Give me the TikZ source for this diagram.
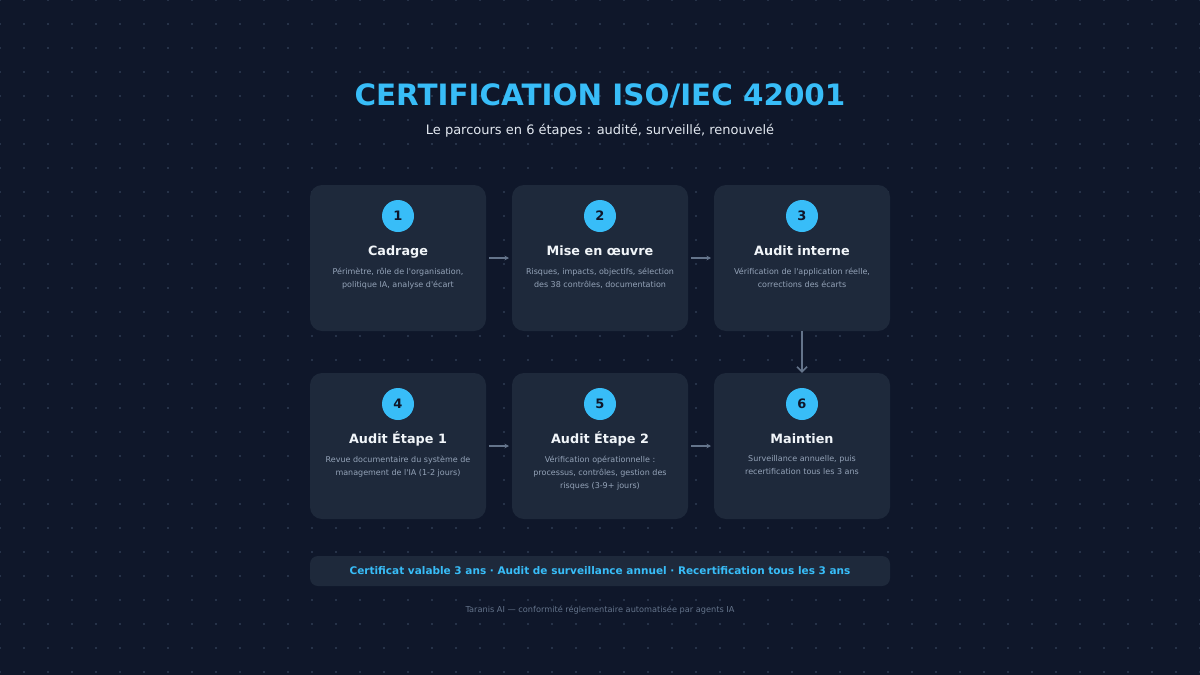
\documentclass[tikz,border=0pt]{standalone}
\usepackage{fontspec}
\setmainfont{DejaVu Sans}
\usetikzlibrary{arrows.meta}
\definecolor{bg}{HTML}{0F172A}
\definecolor{card}{HTML}{1E293B}
\definecolor{accent}{HTML}{38BDF8}
\definecolor{desc}{HTML}{94A3B8}
\definecolor{foot}{HTML}{64748B}
\definecolor{arr}{HTML}{64748B}
\definecolor{dotc}{HTML}{263248}
\definecolor{ttl}{HTML}{F1F5F9}
\definecolor{sub}{HTML}{E2E8F0}
\newcommand{\sq}{\textquotesingle}
\tikzset{
  cardbox/.style={fill=card, rounded corners=12pt, minimum width=176pt, minimum height=146pt, inner sep=0pt},
  numcirc/.style={circle, fill=accent, minimum size=32pt, inner sep=0pt, font=\bfseries\fontsize{13}{13}\selectfont, text=bg},
  cardtitle/.style={font=\bfseries\fontsize{12.8}{14}\selectfont, text=ttl, inner sep=0pt, anchor=base},
  cardtext/.style={font=\fontsize{8}{13}\selectfont, text=desc, align=center, inner sep=0pt, anchor=north},
  flowarrow/.style={draw=arr, line width=1.1pt, -{Stealth[length=4.5pt,width=4.5pt]}, shorten <=3pt, shorten >=3pt},
  downarrow/.style={draw=arr, line width=1.5pt, -{Straight Barb[length=5pt,width=10pt]}}
}
\begin{document}
\begin{tikzpicture}[x=1pt,y=-1pt]
\fill[bg] (0,0) rectangle (1200,675);
\useasboundingbox (0,0) rectangle (1200,675);
\foreach \i in {0,...,50}{
  \foreach \j in {0,...,28}{
    \fill[dotc] (\i*24-1.1,\j*24-1.1) rectangle +(2.2,2.2);
  }
}
\node[font=\bfseries\fontsize{29.4}{30}\selectfont, text=accent] (title) at (600,96) {CERTIFICATION ISO/IEC 42001};
\node[font=\fontsize{13}{13}\selectfont, text=sub] (subtitle) at (600,131) {Le parcours en 6 étapes : audité, surveillé, renouvelé};

% cards
\node[cardbox] (c1) at (398,258) {};
\node[cardbox] (c2) at (600,258) {};
\node[cardbox] (c3) at (802,258) {};
\node[cardbox] (c4) at (398,446) {};
\node[cardbox] (c5) at (600,446) {};
\node[cardbox] (c6) at (802,446) {};

\node[numcirc] (n1) at (398,216) {1};
\node[numcirc] (n2) at (600,216) {2};
\node[numcirc] (n3) at (802,216) {3};
\node[numcirc] (n4) at (398,404) {4};
\node[numcirc] (n5) at (600,404) {5};
\node[numcirc] (n6) at (802,404) {6};

\node[cardtitle] (t1) at (398,255) {Cadrage};
\node[cardtitle] (t2) at (600,255) {Mise en œuvre};
\node[cardtitle] (t3) at (802,255) {Audit interne};
\node[cardtitle] (t4) at (398,443) {Audit Étape 1};
\node[cardtitle] (t5) at (600,443) {Audit Étape 2};
\node[cardtitle] (t6) at (802,443) {Maintien};

\node[cardtext] (d1) at (398,267.5) {Périmètre, rôle de l\sq organisation,\\politique IA, analyse d\sq écart};
\node[cardtext] (d2) at (600,267.5) {Risques, impacts, objectifs, sélection\\des 38 contrôles, documentation};
\node[cardtext] (d3) at (802,267.5) {Vérification de l\sq application réelle,\\corrections des écarts};
\node[cardtext] (d4) at (398,455.5) {Revue documentaire du système de\\management de l\sq IA (1-2 jours)};
\node[cardtext] (d5) at (600,455.5) {Vérification opérationnelle :\\processus, contrôles, gestion des\\risques (3-9+ jours)};
\node[cardtext] (d6) at (802,455.5) {Surveillance annuelle, puis\\recertification tous les 3 ans};

% arrows
\coordinate (a1) at (486,258); \coordinate (b1) at (512,258);
\coordinate (a2) at (688,258); \coordinate (b2) at (714,258);
\coordinate (a4) at (486,446); \coordinate (b4) at (512,446);
\coordinate (a5) at (688,446); \coordinate (b5) at (714,446);
\draw[flowarrow] (a1) -- (b1);
\draw[flowarrow] (a2) -- (b2);
\draw[flowarrow] (a4) -- (b4);
\draw[flowarrow] (a5) -- (b5);
\draw[downarrow] (c3.south) -- (c6.north);

% bottom bar
\node[fill=card, rounded corners=8pt, minimum width=580pt, minimum height=30pt, inner sep=0pt,
  font=\bfseries\fontsize{10.5}{11}\selectfont, text=accent] (bar) at (600,571)
  {Certificat valable 3 ans · Audit de surveillance annuel · Recertification tous les 3 ans};
\node[font=\fontsize{8.2}{8.2}\selectfont, text=foot] (footer) at (600,610) {Taranis AI — conformité réglementaire automatisée par agents IA};
\end{tikzpicture}
\end{document}
